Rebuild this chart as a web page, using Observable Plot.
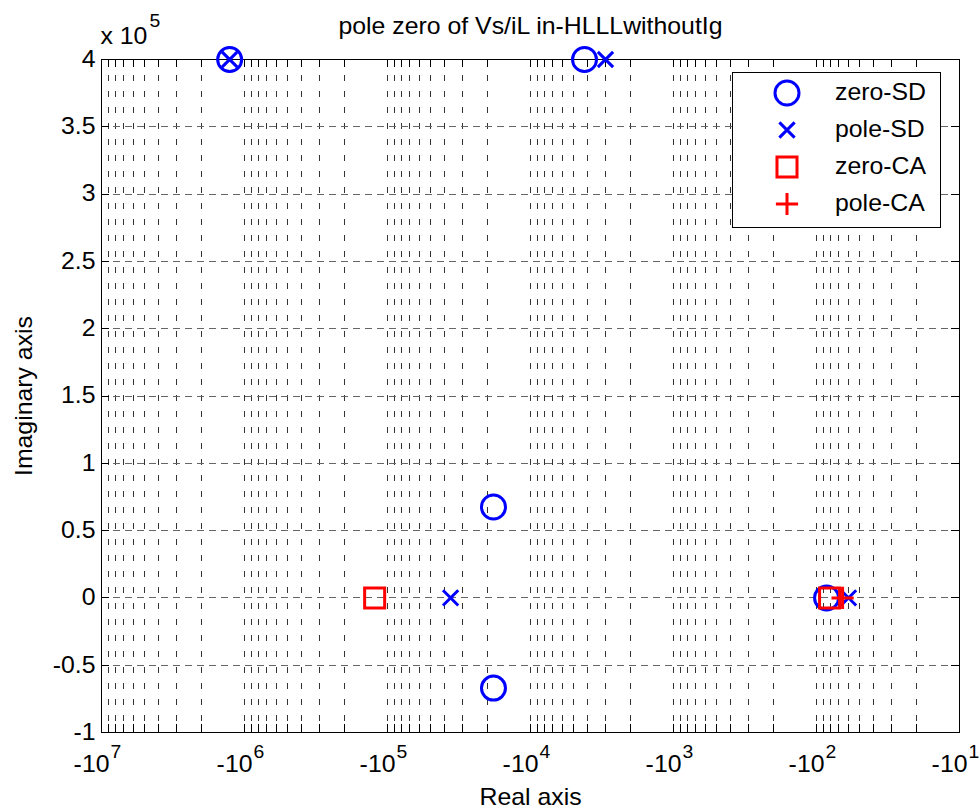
<!DOCTYPE html>
<html><head><meta charset="utf-8">
<script src="https://cdn.jsdelivr.net/npm/d3@7"></script>
<script src="https://cdn.jsdelivr.net/npm/@observablehq/plot@0.6"></script>
<style>
body{margin:0;background:#fff}
#chart{position:relative;width:979px;height:810px}
</style>
</head><body><div id="chart"></div>
<script>
// ---- data ----
const titleText = "pole zero of Vs/iL in-HLLLwithoutIg";
const xLabel = "Real axis";
const yLabel = "Imaginary axis";
const seriesNames = ["zero-SD", "pole-SD", "zero-CA", "pole-CA"];

const zeroSD_re = [-1.27e6, -4190, -18150, -18150, -85];
const zeroSD_im = [4.0e5, 4.0e5, 0.675e5, -0.67e5, 0];
const poleSD_re = [-1.27e6, -2990, -36200, -59.7];
const poleSD_im = [4.0e5, 4.0e5, 0, 0];
const zeroCA_re = [-1.23e5, -81];
const zeroCA_im = [0, 0];
const poleCA_re = [-65.7];
const poleCA_im = [0];

const xDecades = [1e7, 1e6, 1e5, 1e4, 1e3, 1e2, 1e1];
const xDecadeExp = ["7", "6", "5", "4", "3", "2", "1"];
const xMinorMult = [2, 3, 4, 5, 6, 7, 8, 9];
const yTicks = [-1e5, -0.5e5, 0, 0.5e5, 1e5, 1.5e5, 2e5, 2.5e5, 3e5, 3.5e5, 4e5];
const yExponent = "5";

// ---- layout ----
const W = 979, H = 810;
const mL = 101, mR = 20, mT = 59, mB = 78;
const pw = W - mL - mR, ph = H - mT - mB;
const FS = 23, S = 1.08, TICK = 8;
const FONT = "'Liberation Sans', Arial, Helvetica, sans-serif";

const rows = (re, im, name) => re.map((r, i) => ({re: r, im: im[i], name}));
const zeroSD = rows(zeroSD_re, zeroSD_im, seriesNames[0]);
const poleSD = rows(poleSD_re, poleSD_im, seriesNames[1]);
const zeroCA = rows(zeroCA_re, zeroCA_im, seriesNames[2]);
const poleCA = rows(poleCA_re, poleCA_im, seriesNames[3]);

const xMinor = xDecades.slice(1).flatMap(d => xMinorMult.map(m => m * d));
const xGrid = [...xDecades, ...xMinor];
const xMajor = xDecades.map((d, i) => ({v: d, e: xDecadeExp[i]}));

const mag = d => -d.re;

const styles = {
  "zero-SD": {symbol: "circle", r: 12, stroke: "#0000ff"},
  "pole-SD": {symbol: "times", r: 7, stroke: "#0000ff"},
  "zero-CA": {symbol: "square", r: 11.3, stroke: "#ff0000"},
  "pole-CA": {symbol: "plus", r: 7.2, stroke: "#ff0000"}
};
const d3sym = {circle: d3.symbolCircle, times: d3.symbolTimes, square: d3.symbolSquare, plus: d3.symbolPlus};
const SW = 3;

function dotMark(data, name) {
  const st = styles[name];
  return Plot.dot(data, {x: mag, y: "im", symbol: st.symbol, r: st.r, stroke: st.stroke, fill: "none", strokeWidth: SW});
}

function legendMark() {
  const g = d3.create("svg:g");
  const bw = 208, bh = 155;
  const bx = W - mR - 19 - bw, by = mT + 13;
  g.append("rect").attr("x", bx).attr("y", by).attr("width", bw).attr("height", bh)
    .attr("fill", "white").attr("stroke", "black").attr("stroke-width", 1).attr("shape-rendering", "crispEdges");
  seriesNames.forEach((name, i) => {
    const st = styles[name];
    const cy = by + 21 + i * 37;
    const cx = bx + 55;
    g.append("path").attr("d", d3.symbol(d3sym[st.symbol], Math.PI * st.r * st.r)())
      .attr("transform", `translate(${cx},${cy})`)
      .attr("fill", "none").attr("stroke", st.stroke).attr("stroke-width", SW);
    g.append("text").attr("transform", `translate(${bx + 103},${cy}) scale(${S},1)`)
      .attr("y", "0.32em").attr("font-size", FS).attr("font-family", FONT).attr("fill", "black")
      .attr("text-anchor", "start")
      .text(name);
  });
  return g.node();
}

const plot = Plot.plot({
  width: W, height: H,
  marginLeft: mL, marginRight: mR, marginTop: mT, marginBottom: mB,
  style: {fontFamily: FONT, fontSize: FS + "px", background: "white", color: "black"},
  x: {type: "log", domain: [1e7, 10], axis: null},
  y: {domain: [-1e5, 4e5], axis: null},
  marks: [
    // grid
    Plot.ruleX(xGrid, {x: d => d, stroke: "#333", strokeWidth: 1, strokeDasharray: "6,10", shapeRendering: "crispEdges"}),
    Plot.ruleY(yTicks, {y: d => d, stroke: "#666", strokeWidth: 1, strokeDasharray: "7,5", shapeRendering: "crispEdges"}),
    // inward ticks
    Plot.tickX(xGrid, {x: d => d, insetTop: ph - TICK, stroke: "black", shapeRendering: "crispEdges"}),
    Plot.tickX(xGrid, {x: d => d, insetBottom: ph - TICK, stroke: "black", shapeRendering: "crispEdges"}),
    Plot.tickY(yTicks, {y: d => d, insetRight: pw - TICK, stroke: "black", shapeRendering: "crispEdges"}),
    Plot.tickY(yTicks, {y: d => d, insetLeft: pw - TICK, stroke: "black", shapeRendering: "crispEdges"}),
    Plot.frame({stroke: "black", strokeWidth: 1, shapeRendering: "crispEdges"}),
    // y tick labels
    Plot.text(yTicks, {y: d => d, text: d => String(d / 1e5), frameAnchor: "left", textAnchor: "end", dx: -6, lineAnchor: "middle", fill: "black"}),
    // x tick labels "-10" with exponent
    Plot.text(xMajor, {x: "v", text: () => "-10", frameAnchor: "bottom", textAnchor: "end", lineAnchor: "bottom", dx: 8, dy: 39, fill: "black"}),
    Plot.text(xMajor, {x: "v", text: "e", frameAnchor: "bottom", textAnchor: "start", lineAnchor: "bottom", dx: 9, dy: 25, fontSize: FS * 0.78, fill: "black"}),
    // exponent marker
    Plot.text(["x 10"], {frameAnchor: "top-left", textAnchor: "start", lineAnchor: "bottom", dx: -1, dy: -16, fill: "black"}),
    Plot.text([yExponent], {frameAnchor: "top-left", textAnchor: "start", lineAnchor: "bottom", dx: 48, dy: -33, fontSize: FS * 0.78, fill: "black"}),
    // title and axis labels
    Plot.text([titleText], {frameAnchor: "top", textAnchor: "middle", lineAnchor: "bottom", dy: -26, fill: "black"}),
    Plot.text([xLabel], {frameAnchor: "bottom", textAnchor: "middle", lineAnchor: "bottom", dy: 72, fill: "black"}),
    Plot.text([yLabel], {frameAnchor: "left", textAnchor: "middle", lineAnchor: "bottom", rotate: -90, dx: -70, fill: "black"}),
    // data
    dotMark(zeroSD, "zero-SD"),
    dotMark(poleSD, "pole-SD"),
    dotMark(zeroCA, "zero-CA"),
    dotMark(poleCA, "pole-CA"),
    legendMark
  ]
});

// stretch text horizontally to match the wide glyphs of the original
plot.querySelectorAll('g[aria-label="text"] text').forEach(t => {
  const tr = t.getAttribute("transform") || "";
  t.setAttribute("transform", tr + ` scale(${S},1)`);
});
document.getElementById("chart").appendChild(plot);
</script>
</body></html>
